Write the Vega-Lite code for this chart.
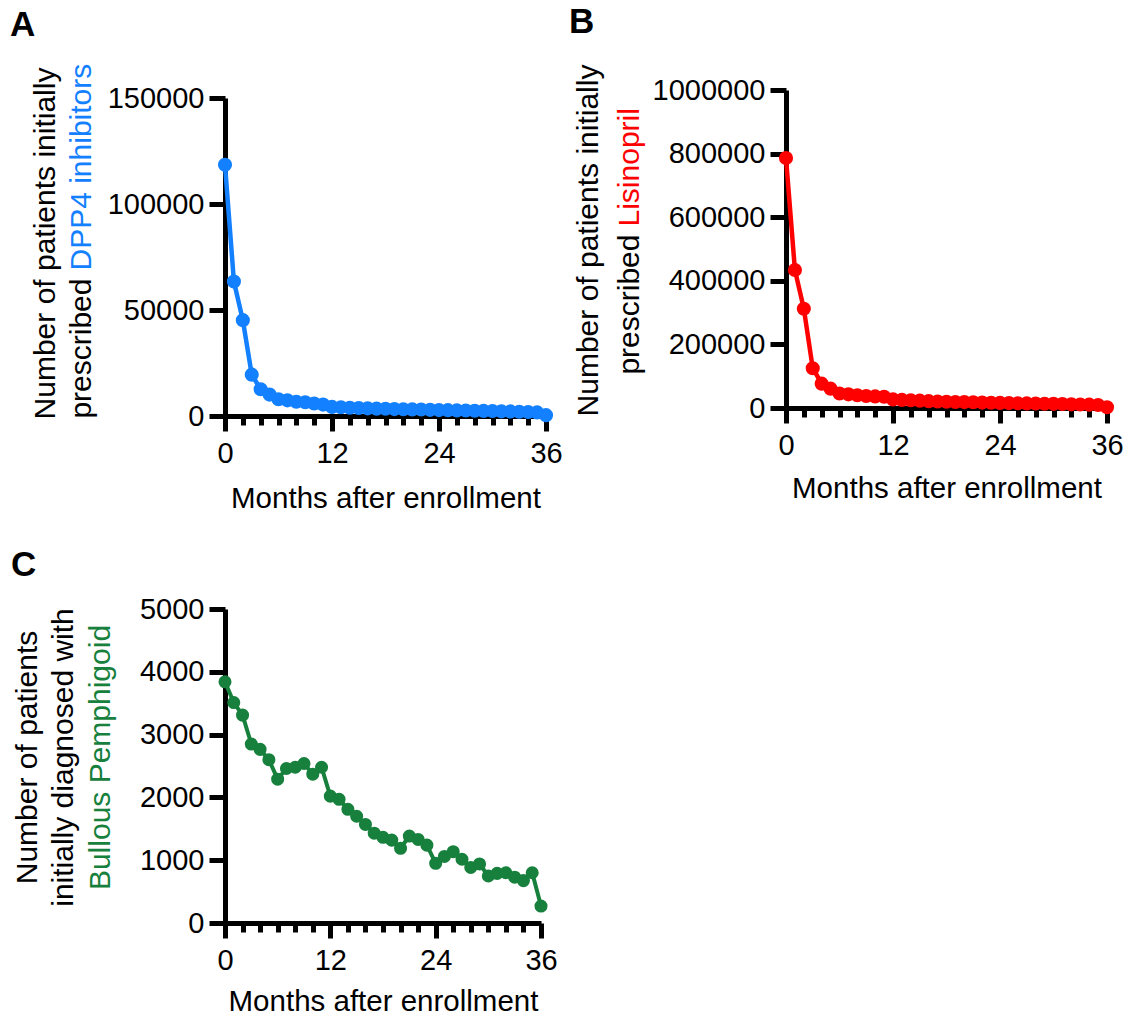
{
  "$schema": "https://vega.github.io/schema/vega-lite/v6.json",
  "padding": {"left": 10, "top": 5, "right": 5, "bottom": 5},
  "background": "white",
  "datasets": {
    "dpp4": [
      {"month": 0, "patients": 118500}, {"month": 1, "patients": 63400}, {"month": 2, "patients": 45200},
      {"month": 3, "patients": 19500}, {"month": 4, "patients": 12600}, {"month": 5, "patients": 10100},
      {"month": 6, "patients": 7900}, {"month": 7, "patients": 7400}, {"month": 8, "patients": 6700},
      {"month": 9, "patients": 6500}, {"month": 10, "patients": 5900}, {"month": 11, "patients": 5400},
      {"month": 12, "patients": 4300}, {"month": 13, "patients": 4150}, {"month": 14, "patients": 3900},
      {"month": 15, "patients": 3750}, {"month": 16, "patients": 3600}, {"month": 17, "patients": 3450},
      {"month": 18, "patients": 3400}, {"month": 19, "patients": 3250}, {"month": 20, "patients": 3200},
      {"month": 21, "patients": 3100}, {"month": 22, "patients": 3050}, {"month": 23, "patients": 2900},
      {"month": 24, "patients": 2800}, {"month": 25, "patients": 2750}, {"month": 26, "patients": 2650},
      {"month": 27, "patients": 2600}, {"month": 28, "patients": 2500}, {"month": 29, "patients": 2400},
      {"month": 30, "patients": 2350}, {"month": 31, "patients": 2200}, {"month": 32, "patients": 2150},
      {"month": 33, "patients": 2000}, {"month": 34, "patients": 1900}, {"month": 35, "patients": 1700},
      {"month": 36, "patients": 400}
    ],
    "lis": [
      {"month": 0, "patients": 786000}, {"month": 1, "patients": 434000}, {"month": 2, "patients": 312000},
      {"month": 3, "patients": 125000}, {"month": 4, "patients": 76500}, {"month": 5, "patients": 60800},
      {"month": 6, "patients": 45500}, {"month": 7, "patients": 43000}, {"month": 8, "patients": 40000},
      {"month": 9, "patients": 37700}, {"month": 10, "patients": 36500}, {"month": 11, "patients": 35500},
      {"month": 12, "patients": 27000}, {"month": 13, "patients": 25500}, {"month": 14, "patients": 24500},
      {"month": 15, "patients": 23000}, {"month": 16, "patients": 21500}, {"month": 17, "patients": 20500},
      {"month": 18, "patients": 19500}, {"month": 19, "patients": 19000}, {"month": 20, "patients": 18500},
      {"month": 21, "patients": 18000}, {"month": 22, "patients": 17000}, {"month": 23, "patients": 16500},
      {"month": 24, "patients": 16000}, {"month": 25, "patients": 15500}, {"month": 26, "patients": 15000},
      {"month": 27, "patients": 14500}, {"month": 28, "patients": 14000}, {"month": 29, "patients": 13500},
      {"month": 30, "patients": 13000}, {"month": 31, "patients": 12500}, {"month": 32, "patients": 11500},
      {"month": 33, "patients": 11000}, {"month": 34, "patients": 10500}, {"month": 35, "patients": 9500},
      {"month": 36, "patients": 2500}
    ],
    "bp": [
      {"month": 0, "patients": 3840}, {"month": 1, "patients": 3510}, {"month": 2, "patients": 3310},
      {"month": 3, "patients": 2850}, {"month": 4, "patients": 2765}, {"month": 5, "patients": 2600},
      {"month": 6, "patients": 2290}, {"month": 7, "patients": 2460}, {"month": 8, "patients": 2480},
      {"month": 9, "patients": 2540}, {"month": 10, "patients": 2370}, {"month": 11, "patients": 2480},
      {"month": 12, "patients": 2020}, {"month": 13, "patients": 1970}, {"month": 14, "patients": 1810},
      {"month": 15, "patients": 1700}, {"month": 16, "patients": 1570}, {"month": 17, "patients": 1430},
      {"month": 18, "patients": 1365}, {"month": 19, "patients": 1320}, {"month": 20, "patients": 1190},
      {"month": 21, "patients": 1385}, {"month": 22, "patients": 1330}, {"month": 23, "patients": 1240},
      {"month": 24, "patients": 950}, {"month": 25, "patients": 1060}, {"month": 26, "patients": 1135},
      {"month": 27, "patients": 1015}, {"month": 28, "patients": 885}, {"month": 29, "patients": 940},
      {"month": 30, "patients": 750}, {"month": 31, "patients": 790}, {"month": 32, "patients": 800},
      {"month": 33, "patients": 730}, {"month": 34, "patients": 675}, {"month": 35, "patients": 800},
      {"month": 36, "patients": 270}
    ]
  },
  "vconcat": [
    {
      "hconcat": [
        {
          "title": {"text": "A", "dx": -20, "offset": 20},
          "width": 321,
          "height": 326,
          "data": {"name": "dpp4"},
          "layer": [
            {
              "mark": {"type": "line", "color": "#1380FF", "strokeWidth": 4.5},
              "encoding": {
                "x": {"field": "month", "type": "quantitative", "scale": {"domain": [0, 36], "nice": false},
                  "axis": {"orient": "bottom", "values": [0, 12, 24, 36], "tickSize": 15, "labelPadding": 31, "labelBaseline": "alphabetic",
                    "title": "Months after enrollment", "titleFontSize": 29.5, "titleBaseline": "alphabetic", "titleAlign": "center", "titleX": 160.5, "titleY": 91}},
                "y": {"field": "patients", "type": "quantitative", "scale": {"domain": [0, 150000], "nice": false, "range": [326, 8]},
                  "axis": {"orient": "left", "values": [0, 50000, 100000, 150000], "format": "d", "tickSize": 16, "labelPadding": 5,
                    "title": "Number of patients initially", "titleAngle": 270, "titleAlign": "center", "titleBaseline": "alphabetic", "titleX": -171, "titleY": 153}}
              }
            },
            {
              "mark": {"type": "point", "filled": true, "opacity": 1, "color": "#1380FF", "size": 200},
              "encoding": {
                "x": {"field": "month", "type": "quantitative",
                  "axis": {"orient": "bottom", "values": [2, 4, 6, 8, 10, 14, 16, 18, 20, 22, 26, 28, 30, 32, 34], "domain": false, "labels": false, "tickSize": 9,
                    "title": "prescribed", "titleAngle": 270, "titleAlign": "right", "titleBaseline": "alphabetic", "titleX": -134.5, "titleY": -138}},
                "y": {"field": "patients", "type": "quantitative",
                  "axis": {"orient": "left", "domain": false, "ticks": false, "labels": false,
                    "title": "DPP4 inhibitors", "titleColor": "#1380FF", "titleAngle": 270, "titleAlign": "left", "titleBaseline": "alphabetic", "titleX": -134.5, "titleY": 180}}
              }
            }
          ],
          "resolve": {"axis": {"x": "independent", "y": "independent"}}
        },
        {
          "title": {"text": "B", "dx": -4, "offset": 24},
          "width": 321,
          "height": 318,
          "data": {"name": "lis"},
          "layer": [
            {
              "mark": {"type": "line", "color": "#FF0000", "strokeWidth": 4.5},
              "encoding": {
                "x": {"field": "month", "type": "quantitative", "scale": {"domain": [0, 36], "nice": false},
                  "axis": {"orient": "bottom", "values": [0, 12, 24, 36], "tickSize": 15, "labelPadding": 31, "labelBaseline": "alphabetic",
                    "title": "Months after enrollment", "titleFontSize": 29.5, "titleBaseline": "alphabetic", "titleAlign": "center", "titleX": 160.5, "titleY": 89}},
                "y": {"field": "patients", "type": "quantitative", "scale": {"domain": [0, 1000000], "nice": false},
                  "axis": {"orient": "left", "values": [0, 200000, 400000, 600000, 800000, 1000000], "format": "d", "tickSize": 16, "labelPadding": 5,
                    "title": "Number of patients initially", "titleAngle": 270, "titleAlign": "center", "titleBaseline": "alphabetic", "titleX": -189, "titleY": 150}}
              }
            },
            {
              "mark": {"type": "point", "filled": true, "opacity": 1, "color": "#FF0000", "size": 200},
              "encoding": {
                "x": {"field": "month", "type": "quantitative",
                  "axis": {"orient": "bottom", "values": [2, 4, 6, 8, 10, 14, 16, 18, 20, 22, 26, 28, 30, 32, 34], "domain": false, "labels": false, "tickSize": 9,
                    "title": "prescribed", "titleAngle": 270, "titleAlign": "right", "titleBaseline": "alphabetic", "titleX": -148, "titleY": -174}},
                "y": {"field": "patients", "type": "quantitative",
                  "axis": {"orient": "left", "domain": false, "ticks": false, "labels": false,
                    "title": "Lisinopril", "titleColor": "#FF0000", "titleAngle": 270, "titleAlign": "left", "titleBaseline": "alphabetic", "titleX": -148, "titleY": 136}}
              }
            }
          ],
          "resolve": {"axis": {"x": "independent", "y": "independent"}}
        }
      ],
      "spacing": 6
    },
    {
      "title": {"text": "C", "dx": -1, "offset": 12},
      "width": 316,
      "height": 314,
      "data": {"name": "bp"},
      "layer": [
        {
          "mark": {"type": "line", "color": "#16803C", "strokeWidth": 4},
          "encoding": {
            "x": {"field": "month", "type": "quantitative", "scale": {"domain": [0, 36], "nice": false},
              "axis": {"orient": "bottom", "values": [0, 12, 24, 36], "tickSize": 15, "labelPadding": 31, "labelBaseline": "alphabetic",
                "title": "Months after enrollment", "titleFontSize": 29.5, "titleBaseline": "alphabetic", "titleAlign": "center", "titleX": 158, "titleY": 87.5}},
            "y": {"field": "patients", "type": "quantitative", "scale": {"domain": [0, 5000], "nice": false},
              "axis": {"orient": "left", "values": [0, 1000, 2000, 3000, 4000, 5000], "format": "d", "tickSize": 16, "labelPadding": 5,
                "title": ["Number of patients", "initially diagnosed with"], "titleLineHeight": 36.5, "titleAngle": 270, "titleAlign": "center", "titleBaseline": "alphabetic", "titleX": -189, "titleY": 148}}
          }
        },
        {
          "mark": {"type": "point", "filled": true, "opacity": 1, "color": "#16803C", "size": 170},
          "encoding": {
            "x": {"field": "month", "type": "quantitative",
              "axis": {"orient": "bottom", "values": [2, 4, 6, 8, 10, 14, 16, 18, 20, 22, 26, 28, 30, 32, 34], "domain": false, "labels": false, "tickSize": 9, "title": null}},
            "y": {"field": "patients", "type": "quantitative",
              "axis": {"orient": "left", "domain": false, "ticks": false, "labels": false,
                "title": "Bullous Pemphigoid", "titleColor": "#16803C", "titleAngle": 270, "titleAlign": "center", "titleBaseline": "alphabetic", "titleX": -116, "titleY": 148}}
          }
        }
      ],
      "resolve": {"axis": {"x": "independent", "y": "independent"}}
    }
  ],
  "spacing": 35,
  "config": {
    "view": {"stroke": null},
    "font": "Liberation Sans",
    "axis": {
      "grid": false,
      "labelFont": "Liberation Sans",
      "titleFont": "Liberation Sans",
      "labelFontSize": 29,
      "titleFontSize": 30,
      "titleFontWeight": "normal",
      "labelColor": "black",
      "titleColor": "black",
      "domainColor": "black",
      "tickColor": "black",
      "domainWidth": 5,
      "tickWidth": 5,
      "labelFlush": false,
      "labelOverlap": false
    },
    "title": {
      "anchor": "start",
      "frame": "bounds",
      "font": "Liberation Sans",
      "fontSize": 35,
      "fontWeight": "bold",
      "color": "black"
    }
  }
}
